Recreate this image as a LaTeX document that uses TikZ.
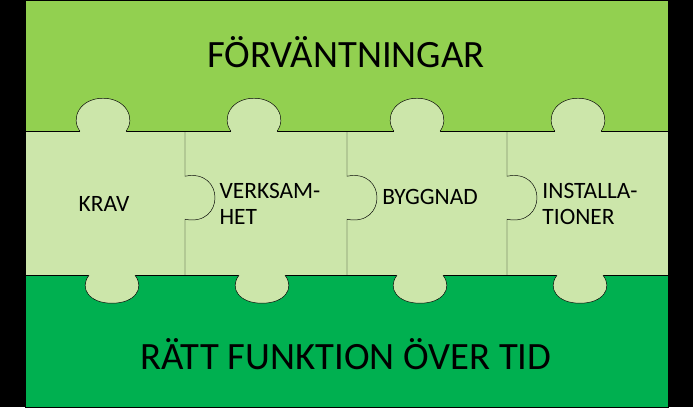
\documentclass[tikz,border=0pt]{standalone}
\usepackage{fontspec}
\setmainfont{Carlito}
\definecolor[named]{myColorTop}{RGB}{146,208,80}
\definecolor[named]{myColorPiece}{RGB}{204,230,170}
\definecolor[named]{myColorBottom}{RGB}{0,176,80}
\begin{document}
\begin{tikzpicture}
[%
    x=0.03cm, y=-0.03cm,
    band/.style={draw=black, thin},
    piece/.style={fill=myColorPiece},
    edge/.style={draw=black, thin},
    label/.style={font=\fontsize{20}{22}\selectfont, align=left},
    title/.style={font=\fontsize{33}{36}\selectfont}
  ]
  %background and bands
  \fill[black] (0,0) rectangle (693,407);
  \draw[band, fill=myColorTop] (25,0) rectangle (668,131);
  \draw[band, fill=myColorBottom] (25,275) rectangle (668,407);
  \draw[band, piece] (25,131) rectangle (668,275);
  %tabs up
  \foreach \cx in {103,254,417,578} {
    \fill[piece] (\cx-23,133) -- (\cx-23,131) .. controls (\cx-33,118) and (\cx-23,98) .. (\cx,98) .. controls (\cx+23,98) and (\cx+33,118) .. (\cx+23,131) -- (\cx+23,133) -- cycle;
    \draw[edge] (\cx-23,131) .. controls (\cx-33,118) and (\cx-23,98) .. (\cx,98) .. controls (\cx+23,98) and (\cx+33,118) .. (\cx+23,131);
  }
  %tabs down
  \foreach \cx in {112,262,420,580} {
    \fill[piece] (\cx-23,273) -- (\cx-23,275) .. controls (\cx-33,288) and (\cx-23,303) .. (\cx,303) .. controls (\cx+23,303) and (\cx+33,288) .. (\cx+23,275) -- (\cx+23,273) -- cycle;
    \draw[edge] (\cx-23,275) .. controls (\cx-33,288) and (\cx-23,303) .. (\cx,303) .. controls (\cx+23,303) and (\cx+33,288) .. (\cx+23,275);
  }
  %piece borders with side tabs
  \foreach \bx in {185,347,507} {
    \draw[edge] (\bx,131) -- (\bx,176) .. controls (\bx+40,168) and (\bx+40,227) .. (\bx,219) -- (\bx,275);
  }
  %texts
  \node[title] (top) at (346,52) {FÖRVÄNTNINGAR};
  \node[title] (bottom) at (346,354) {RÄTT FUNKTION ÖVER TID};
  \node[label] (krav) at (104,204) {KRAV};
  \node[label] (verk) at (270,204) {VERKSAM-\\HET};
  \node[label] (bygg) at (430,197) {BYGGNAD};
  \node[label] (inst) at (590,204) {INSTALLA-\\TIONER};
\end{tikzpicture}
\end{document}
